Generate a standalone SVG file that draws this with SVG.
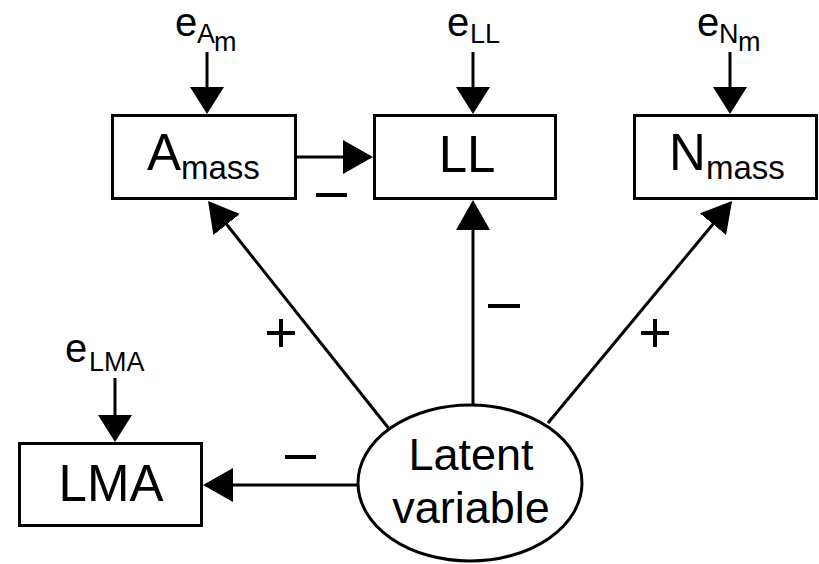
<svg xmlns="http://www.w3.org/2000/svg" width="819" height="564" viewBox="0 0 819 564">
<style>
.box{fill:#fff;stroke:#000;stroke-width:3}
.ln{stroke:#000;stroke-width:3;fill:none}
.sg{stroke:#000;stroke-width:4;fill:none}
text{font-family:"Liberation Sans",Arial,sans-serif;fill:#000}
.big{font-size:51px}
.mid{font-size:45px}
.sub{font-size:33px}
.e{font-size:40px}
.es{font-size:27px}
</style>
<defs>
<marker id="ah" markerUnits="userSpaceOnUse" markerWidth="32" markerHeight="36" refX="22" refY="17" orient="auto" viewBox="0 0 32 36">
<path d="M0,0 L30,17 L0,34 z" fill="#000"/>
</marker>
<marker id="ahs" markerUnits="userSpaceOnUse" markerWidth="30" markerHeight="36" refX="19" refY="17" orient="auto" viewBox="0 0 30 36">
<path d="M0,0 L27,17 L0,34 z" fill="#000"/>
</marker>
</defs>
<g id="connectors">
<line class="ln" x1="207" y1="52" x2="207" y2="106" marker-end="url(#ahs)"/>
<line class="ln" x1="473" y1="52" x2="473" y2="106" marker-end="url(#ahs)"/>
<line class="ln" x1="730" y1="52" x2="730" y2="106" marker-end="url(#ahs)"/>
<line class="ln" x1="115" y1="378" x2="115" y2="434" marker-end="url(#ahs)"/>
<line class="ln" x1="297" y1="157" x2="365" y2="157" marker-end="url(#ah)"/>
<line class="ln" x1="358" y1="485" x2="211" y2="485" marker-end="url(#ah)"/>
<line class="ln" x1="473" y1="405" x2="473" y2="208" marker-end="url(#ah)"/>
<line class="ln" x1="390" y1="430" x2="213" y2="207.3" marker-end="url(#ah)"/>
<line class="ln" x1="548" y1="423" x2="727" y2="207.2" marker-end="url(#ah)"/>
<g id="signs">
<line class="sg" x1="316" y1="195" x2="347" y2="195"/>
<line class="sg" x1="488" y1="306" x2="520" y2="306"/>
<line class="sg" x1="285" y1="457" x2="316" y2="457"/>
<line class="sg" x1="267" y1="333" x2="295" y2="333"/>
<line class="sg" x1="281" y1="319" x2="281" y2="347"/>
<line class="sg" x1="641" y1="333" x2="669" y2="333"/>
<line class="sg" x1="655" y1="319" x2="655" y2="347"/>
</g>
</g>
<g id="e_Am">
<text x="175" y="36" class="e">e</text><text x="197" y="43" class="es">A</text><text x="214" y="51" class="es">m</text>
</g>
<g id="e_LL">
<text x="447" y="36" class="e">e</text><text x="470" y="43" class="es">LL</text>
</g>
<g id="e_Nm">
<text x="697" y="36" class="e">e</text><text x="719" y="43" class="es">N</text><text x="738" y="51" class="es">m</text>
</g>
<g id="e_LMA">
<text x="65" y="362" class="e">e</text><text x="89" y="371" class="es">LMA</text>
</g>
<g id="Amass">
<rect class="box" x="112.5" y="115.5" width="183" height="83"/>
<text x="147" y="170" class="big">A</text><text x="181" y="179" class="sub">mass</text>
</g>
<g id="LL">
<rect class="box" x="374.5" y="115.5" width="181" height="83"/>
<text x="467" y="172" class="big" text-anchor="middle">LL</text>
</g>
<g id="Nmass">
<rect class="box" x="634.5" y="115.5" width="182" height="83"/>
<text x="669" y="170" class="big">N</text><text x="706" y="179" class="sub">mass</text>
</g>
<g id="LMA">
<rect class="box" x="19.5" y="443.5" width="182" height="82"/>
<text x="111" y="501" class="big" text-anchor="middle">LMA</text>
</g>
<g id="Latent">
<ellipse class="box" cx="470" cy="483" rx="112" ry="78"/>
<text x="471" y="470" class="mid" text-anchor="middle">Latent</text>
<text x="471" y="523" class="mid" text-anchor="middle">variable</text>
</g>
</svg>
